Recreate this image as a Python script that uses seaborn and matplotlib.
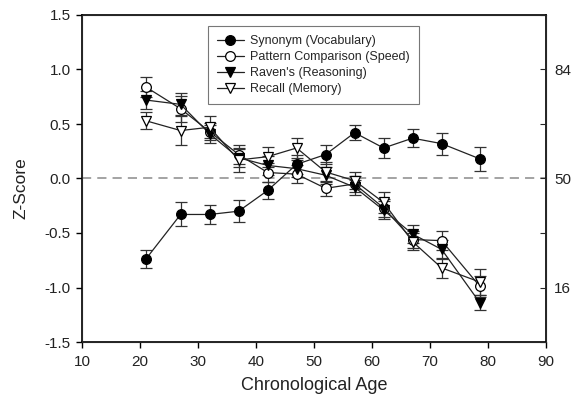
import pandas as pd
import seaborn as sns
import matplotlib.pyplot as plt

ages = [21, 27, 32, 37, 42, 47, 52, 57, 62, 67, 72, 78.6]

synonym = [-0.74, -0.33, -0.33, -0.30, -0.11, 0.13, 0.22, 0.42, 0.28, 0.37, 0.32, 0.18]
synonym_err = [0.08, 0.11, 0.09, 0.10, 0.08, 0.09, 0.09, 0.07, 0.09, 0.08, 0.10, 0.11]

pattern = [0.84, 0.64, 0.43, 0.22, 0.055, 0.04, -0.09, -0.05, -0.27, -0.56, -0.57, -0.99]
pattern_err = [0.09, 0.12, 0.08, 0.09, 0.09, 0.08, 0.07, 0.07, 0.08, 0.08, 0.09, 0.10]

ravens = [0.72, 0.68, 0.41, 0.19, 0.12, 0.09, 0.03, -0.08, -0.29, -0.51, -0.65, -1.14]
ravens_err = [0.08, 0.10, 0.08, 0.08, 0.09, 0.08, 0.08, 0.07, 0.08, 0.08, 0.09, 0.07]

recall = [0.53, 0.44, 0.47, 0.17, 0.20, 0.28, 0.06, -0.02, -0.22, -0.58, -0.82, -0.95]
recall_err = [0.08, 0.13, 0.10, 0.11, 0.09, 0.09, 0.09, 0.08, 0.10, 0.08, 0.09, 0.12]

y_ticks = [-1.5, -1.0, -0.5, 0.0, 0.5, 1.0, 1.5]
y_labels = ["-1.5", "-1.0", "-0.5", "0.0", "0.5", "1.0", "1.5"]
right_labels = ["", "16", "", "50", "", "84", ""]

sns.set_style("ticks")
plt.rcParams["font.family"] = ["Liberation Sans", "DejaVu Sans"]

fig = plt.figure(figsize=(5.74, 4.01), dpi=100)
ax = fig.add_axes([82 / 574, 1 - 342 / 401, 464 / 574, 327 / 401])

series = [
    ("Synonym (Vocabulary)", synonym, synonym_err, "o", "black"),
    ("Pattern Comparison (Speed)", pattern, pattern_err, "o", "white"),
    ("Raven's (Reasoning)", ravens, ravens_err, "v", "black"),
    ("Recall (Memory)", recall, recall_err, "v", "white"),
]

ax.axhline(0, color="#8a8a8a", lw=1.1, ls=(0, (6, 4)), zorder=1)

for name, vals, errs, mk, fc in series:
    df = pd.DataFrame({"age": ages, "z": vals})
    ax.errorbar(ages, vals, yerr=errs, fmt="none", ecolor="#333333",
                elinewidth=0.9, capsize=4, capthick=0.9, zorder=2)
    sns.lineplot(data=df, x="age", y="z", ax=ax, color="#222222", lw=0.9,
                 marker=mk, markersize=7, markerfacecolor=fc,
                 markeredgecolor="black", markeredgewidth=0.9,
                 label=name, zorder=3)

ax.set_xlim(10, 90)
ax.set_ylim(-1.5, 1.5)
ax.set_xticks(range(10, 91, 10))
ax.set_yticks(y_ticks)
ax.set_yticklabels(y_labels)
ax.tick_params(labelsize=11, length=4, width=1, pad=4, color="black",
               labelcolor="#222222")
ax.tick_params(axis="x", pad=5)
ax.set_xlabel("Chronological Age", fontsize=13, color="#222222", labelpad=6)
ax.set_ylabel("Z-Score", fontsize=12.5, color="#222222")
ax.yaxis.set_label_coords(-0.116, 0.47)

for sp in ax.spines.values():
    sp.set_visible(True)
    sp.set_color("black")
    sp.set_linewidth(1.2)

ax2 = ax.twinx()
ax2.set_ylim(-1.5, 1.5)
ax2.set_yticks(y_ticks)
ax2.set_yticklabels(right_labels)
ax2.tick_params(axis="y", direction="in", length=4, labelsize=11,
                labelcolor="#222222", pad=6)

leg = ax.legend(loc="upper left", bbox_to_anchor=(0.258, 0.985), fontsize=9,
                frameon=True, fancybox=False, edgecolor="#555555",
                handlelength=2.2, handletextpad=0.5, borderpad=0.7,
                labelspacing=0.32)
leg.get_frame().set_linewidth(0.8)

fig.savefig("out.png", dpi=100)
